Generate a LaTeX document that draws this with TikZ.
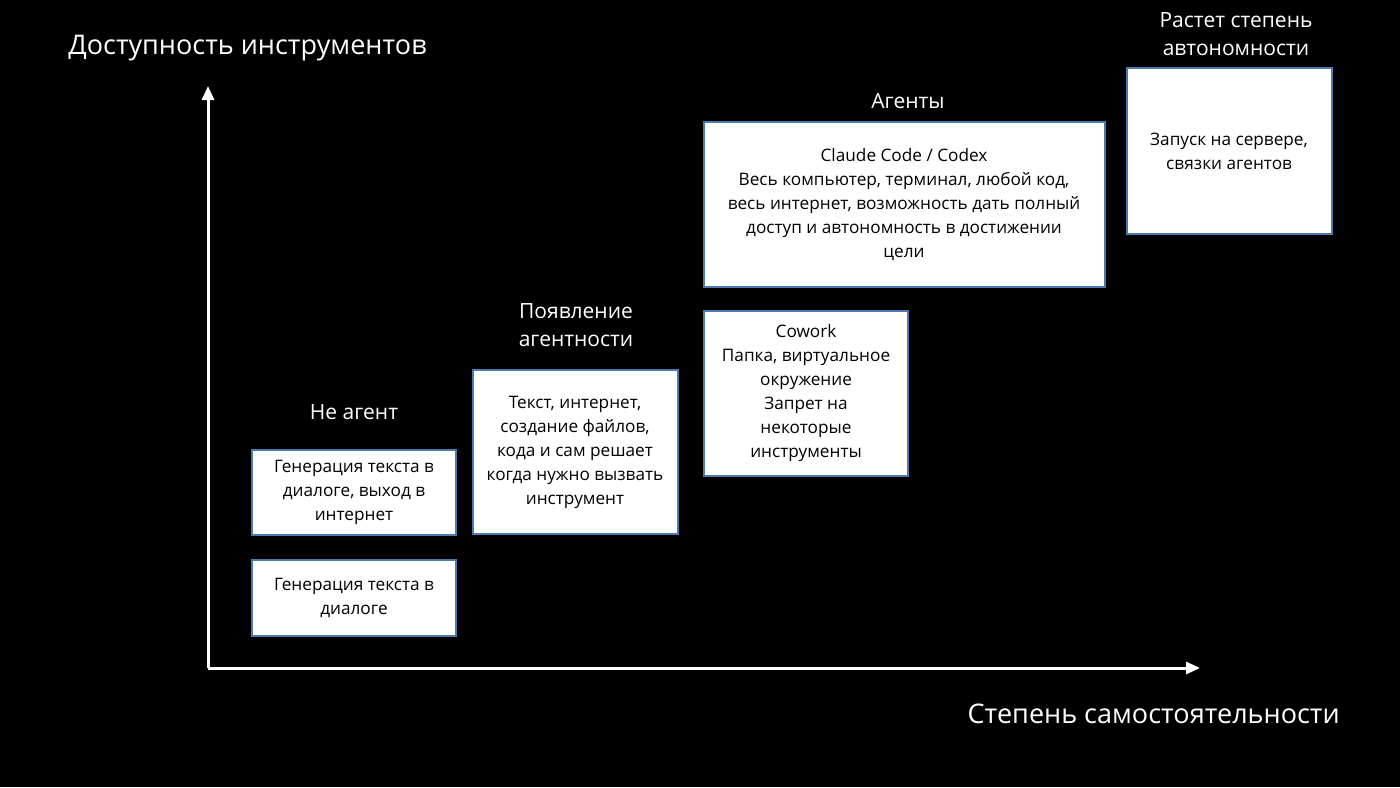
\documentclass[tikz,border=0pt]{standalone}
\usepackage{fontspec}
\setmainfont{Open Sans}
\usetikzlibrary{arrows.meta}
\definecolor{bd}{HTML}{4A7AB0}
\begin{document}
\begin{tikzpicture}[x=0.5pt,y=-0.5pt,
  box/.style={draw=bd,line width=1pt,fill=white,inner sep=0pt},
  txt/.style={align=center,font=\fontsize{8.6}{12}\selectfont,text=black},
  lbl/.style={align=center,font=\fontsize{10.5}{14}\selectfont,text=white},
  ax/.style={white,line width=1.5pt,-{Triangle[length=7pt,width=6pt]}}]
\fill[black] (0,0) rectangle (1400,787);
\useasboundingbox (0,0) rectangle (1400,787);
\draw[box] (252,450) rectangle (456,535); \node[txt] (b1) at (354,492) {Генерация текста в\\диалоге, выход в\\интернет};
\draw[box] (252,560) rectangle (456,636); \node[txt] (b0) at (354,598) {Генерация текста в\\диалоге};
\draw[box] (473,370) rectangle (678,534); \node[txt] (b2) at (575,452) {Текст, интернет,\\создание файлов,\\кода и сам решает\\когда нужно вызвать\\инструмент};
\draw[box] (704,311) rectangle (908,476); \node[txt] (b3) at (806,393) {Cowork\\Папка, виртуальное\\окружение\\Запрет на\\некоторые\\инструменты};
\draw[box] (704,122) rectangle (1105,287); \node[txt] (b4) at (904,205) {Claude Code / Codex\\Весь компьютер, терминал, любой код,\\весь интернет, возможность дать полный\\доступ и автономность в достижении\\цели};
\draw[box] (1127,68) rectangle (1332,234); \node[txt] (b5) at (1229,151) {Запуск на сервере,\\связки агентов};
\node[lbl] (l1) at (354,412) {Не агент};
\node[lbl] (l2) at (576,325) {Появление\\агентности};
\node[lbl] (l3) at (908,101) {Агенты};
\node[lbl] (l4) at (1236,34) {Растет степень\\автономности};
\coordinate (o) at (208,668);
\coordinate (yt) at (208,86);
\coordinate (xt) at (1200,668);
\draw[ax] (o) -- (yt);
\draw[ax] (o) -- (xt);
\node[anchor=west,text=white,font=\fontsize{13.5}{16}\selectfont,inner sep=0pt] (ya) at (68,48) {Доступность инструментов};
\node[anchor=east,text=white,font=\fontsize{13.5}{16}\selectfont,inner sep=0pt] (xa) at (1340,714) {Степень самостоятельности};
\end{tikzpicture}
\end{document}
